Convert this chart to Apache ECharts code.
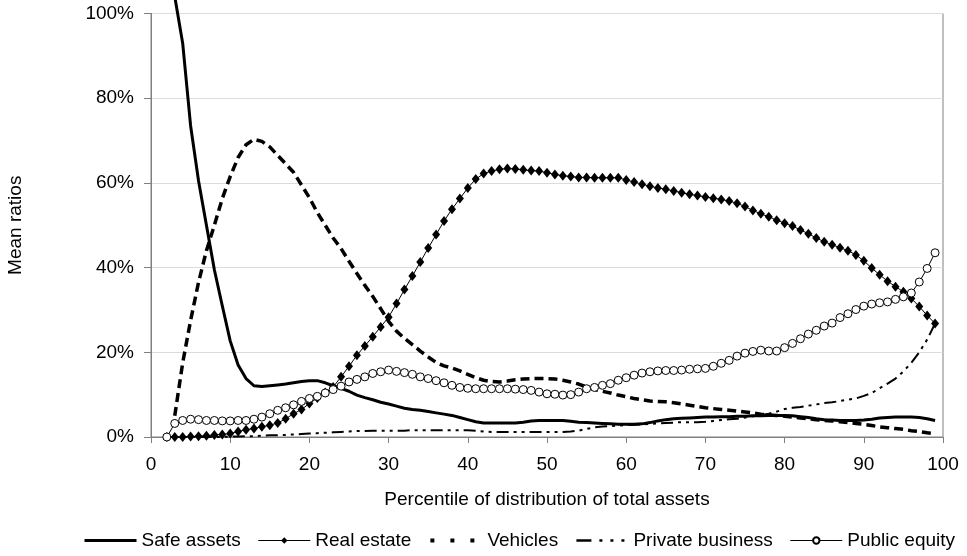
<!DOCTYPE html>
<html>
<head>
<meta charset="utf-8">
<title>Mean ratios by percentile of total assets</title>
<script src="https://cdn.jsdelivr.net/npm/echarts@6/dist/echarts.min.js"></script>
<style>
  html, body { margin: 0; padding: 0; background: #fff; }
  #chart { width: 967px; height: 556px; }
</style>
</head>
<body>
<div id="chart"></div>
<script>
// Percentile of the distribution of total assets (x positions of every observation)
const percentiles = [
   2,  3,  4,  5,  6,  7,  8,  9, 10, 11, 12, 13, 14, 15, 16, 17, 18, 19, 20, 21,
  22, 23, 24, 25, 26, 27, 28, 29, 30, 31, 32, 33, 34, 35, 36, 37, 38, 39, 40, 41,
  42, 43, 44, 45, 46, 47, 48, 49, 50, 51, 52, 53, 54, 55, 56, 57, 58, 59, 60, 61,
  62, 63, 64, 65, 66, 67, 68, 69, 70, 71, 72, 73, 74, 75, 76, 77, 78, 79, 80, 81,
  82, 83, 84, 85, 86, 87, 88, 89, 90, 91, 92, 93, 94, 95, 96, 97, 98, 99
];

// Mean ratios, in percent, one value per percentile above
const safeAssets = [
  null, 104, 93, 73.5, 60.5, 50, 39.5, 31, 22.7, 17, 13.8, 12.1, 11.9, 12.1, 12.3, 12.5, 12.8, 13.1, 13.3, 13.3,
  12.8, 12.1, 11.5, 10.8, 9.9, 9.3, 8.8, 8.2, 7.8, 7.3, 6.8, 6.5, 6.3, 6.0, 5.7, 5.4, 5.1, 4.6, 4.1, 3.6,
  3.3, 3.3, 3.3, 3.3, 3.3, 3.5, 3.8, 3.9, 3.9, 3.9, 3.9, 3.7, 3.5, 3.4, 3.3, 3.2, 3.1, 3.0, 3.0, 3.0,
  3.1, 3.4, 3.8, 4.1, 4.3, 4.4, 4.5, 4.6, 4.7, 4.7, 4.8, 4.8, 4.9, 4.9, 5.0, 5.0, 5.1, 5.1, 5.1, 5.0,
  4.8, 4.6, 4.3, 4.1, 4.0, 3.9, 3.9, 3.9, 4.0, 4.2, 4.5, 4.6, 4.7, 4.7, 4.7, 4.6, 4.3, 3.9
];
const realEstate = [
  0, 0, 0, 0.1, 0.2, 0.3, 0.5, 0.6, 0.8, 1.3, 1.7, 2.0, 2.4, 2.8, 3.3, 4.3, 5.5, 6.5, 7.9, 9.2,
  10.5, 11.8, 14.2, 16.7, 19.3, 21.5, 23.7, 26.0, 28.3, 31.5, 34.8, 38.0, 41.3, 44.6, 47.8, 51.0, 53.8, 56.3, 58.8, 60.9,
  62.2, 62.8, 63.2, 63.4, 63.3, 63.1, 62.9, 62.8, 62.4, 62.0, 61.7, 61.5, 61.3, 61.3, 61.2, 61.2, 61.2, 61.2, 60.7, 60.2,
  59.7, 59.2, 58.8, 58.5, 58.1, 57.7, 57.3, 57.0, 56.7, 56.4, 56.1, 55.7, 55.2, 54.4, 53.5, 52.7, 52.0, 51.2, 50.5, 49.8,
  48.9, 48.0, 47.0, 46.1, 45.4, 44.7, 44.0, 43.0, 41.6, 39.9, 38.3, 36.8, 35.5, 34.3, 32.7, 30.8, 28.7, 26.8
];
const vehicles = [
  null, 5, 17.5, 27.5, 36.5, 44, 50, 56.3, 61.5, 66, 69, 70.3, 69.8, 68.5, 66.5, 64.5, 62.5, 59.5, 56.5, 53,
  50, 47, 44.5, 41.5, 38.6, 35.8, 33.2, 30.3, 27.3, 25, 23.3, 21.8, 20.3, 18.9, 17.6, 16.8, 16.3, 15.6, 14.8, 14,
  13.4, 13.1, 13.0, 13.2, 13.5, 13.7, 13.8, 13.8, 13.8, 13.7, 13.4, 13.0, 12.5, 11.8, 11.2, 10.8, 10.4, 9.9, 9.5, 9.1,
  8.8, 8.5, 8.4, 8.3, 8.1, 7.8, 7.5, 7.2, 6.9, 6.7, 6.5, 6.3, 6.1, 5.9, 5.7, 5.4, 5.2, 5.1, 4.9, 4.7,
  4.5, 4.3, 4.1, 3.9, 3.8, 3.6, 3.4, 3.2, 3.0, 2.7, 2.4, 2.2, 2.0, 1.8, 1.5, 1.3, 1.0, 0.8
];
const privateBusiness = [
  0, 0, 0, 0, 0, 0, 0, 0, 0.1, 0.1, 0.2, 0.2, 0.3, 0.4, 0.4, 0.5, 0.6, 0.7, 0.8, 0.9,
  1.0, 1.1, 1.2, 1.3, 1.4, 1.4, 1.5, 1.5, 1.5, 1.5, 1.5, 1.6, 1.6, 1.6, 1.6, 1.6, 1.6, 1.6, 1.6, 1.5,
  1.3, 1.2, 1.2, 1.2, 1.2, 1.2, 1.2, 1.2, 1.2, 1.2, 1.2, 1.3, 1.5, 1.9, 2.3, 2.5, 2.6, 2.7, 2.8, 2.9,
  3.0, 3.1, 3.2, 3.3, 3.4, 3.5, 3.5, 3.5, 3.6, 3.8, 4.0, 4.2, 4.3, 4.6, 4.9, 5.2, 5.5, 6.0, 6.6, 6.9,
  7.1, 7.4, 7.7, 8.0, 8.2, 8.5, 8.8, 9.1, 9.7, 10.4, 11.5, 12.6, 13.8, 15.5, 17.5, 20.0, 23.0, 26.8
];
const publicEquity = [
  0, 3.2, 3.9, 4.2, 4.1, 3.9, 3.9, 3.8, 3.8, 3.9, 3.9, 4.2, 4.7, 5.5, 6.3, 6.9, 7.6, 8.4, 9.1, 9.6,
  10.4, 11.2, 12.0, 13.0, 13.6, 14.2, 15.0, 15.4, 15.8, 15.5, 15.2, 14.8, 14.2, 13.8, 13.3, 12.8, 12.2, 11.7, 11.5, 11.4,
  11.4, 11.4, 11.4, 11.4, 11.3, 11.2, 11.0, 10.6, 10.2, 10.1, 9.9, 10.0, 10.6, 11.4, 11.7, 12.2, 12.6, 13.4, 14.0, 14.6,
  15.1, 15.4, 15.6, 15.7, 15.7, 15.8, 16.0, 16.1, 16.2, 16.7, 17.4, 18.1, 19.1, 19.8, 20.2, 20.5, 20.3, 20.3, 21.1, 22.1,
  23.2, 24.3, 25.2, 26.2, 26.9, 28.2, 29.1, 30.1, 30.9, 31.4, 31.7, 31.9, 32.5, 33.1, 34.0, 36.6, 39.8, 43.5
];

const seriesNames = ['Safe assets', 'Real estate', 'Vehicles', 'Private business', 'Public equity'];
const xTickStep = 10;
const yTickStep = 20;

const FONT = '"Liberation Sans", Arial, sans-serif';
const FONT_SIZE = 19;
const AXIS_GRAY = '#808080';

function pairs(values) {
  return percentiles.map((p, i) => [p, values[i]]);
}

const chart = echarts.init(document.getElementById('chart'), null, { renderer: 'canvas' });

chart.setOption({
  backgroundColor: '#ffffff',
  animation: false,
  textStyle: { fontFamily: FONT, color: '#000' },
  grid: {
    left: 151, right: 24, top: 13.5, bottom: 119,
    show: true, borderColor: AXIS_GRAY, borderWidth: 1,
    containLabel: false, outerBoundsMode: 'none'
  },
  xAxis: {
    type: 'value',
    min: 0, max: 100, interval: xTickStep,
    name: 'Percentile of distribution of total assets',
    nameLocation: 'middle', nameGap: 53,
    nameTextStyle: { fontFamily: FONT, fontSize: FONT_SIZE, color: '#000' },
    axisLine: { show: true, lineStyle: { color: AXIS_GRAY, width: 1 } },
    axisTick: { show: true, inside: false, length: 6, lineStyle: { color: AXIS_GRAY } },
    axisLabel: { fontFamily: FONT, fontSize: FONT_SIZE, color: '#000', margin: 18 },
    splitLine: { show: false }
  },
  yAxis: {
    type: 'value',
    min: 0, max: 100, interval: yTickStep,
    name: 'Mean ratios',
    nameLocation: 'middle', nameGap: 126, nameRotate: 90,
    nameTextStyle: { fontFamily: FONT, fontSize: FONT_SIZE, color: '#000' },
    axisLine: { show: true, lineStyle: { color: AXIS_GRAY, width: 1 } },
    axisTick: { show: true, inside: false, length: 7, lineStyle: { color: AXIS_GRAY } },
    axisLabel: { fontFamily: FONT, fontSize: FONT_SIZE, color: '#000', margin: 17, formatter: '{value}%' },
    splitLine: { show: true, lineStyle: { color: '#dcdcdc', width: 1 } }
  },
  legend: {
    left: 83, top: 531, padding: 0,
    itemWidth: 52, itemHeight: 8, itemGap: 17,
    textStyle: { fontFamily: FONT, fontSize: FONT_SIZE, color: '#000' },
    data: [
      { name: seriesNames[0], itemStyle: { opacity: 0 }, lineStyle: { width: 3 } },
      { name: seriesNames[1], lineStyle: { width: 1 } },
      { name: seriesNames[2], itemStyle: { opacity: 0 }, lineStyle: { width: 4, type: [4, 16] } },
      { name: seriesNames[3], itemStyle: { opacity: 0 }, lineStyle: { width: 2.5, type: [15, 8, 3, 8, 3, 8, 3, 20] } },
      { name: seriesNames[4], lineStyle: { width: 1 } }
    ]
  },
  series: [
    {
      name: seriesNames[0], type: 'line', data: pairs(safeAssets),
      symbol: 'none', clip: false, z: 3,
      lineStyle: { color: '#000', width: 3 },
      itemStyle: { color: '#000' }
    },
    {
      name: seriesNames[1], type: 'line', data: pairs(realEstate),
      symbol: 'diamond', symbolSize: [8, 10], z: 4,
      lineStyle: { color: '#000', width: 1 },
      itemStyle: { color: '#000', borderWidth: 0 }
    },
    {
      name: seriesNames[2], type: 'line', data: pairs(vehicles),
      symbol: 'none', z: 3,
      lineStyle: { color: '#000', width: 3.5, type: [9, 5] },
      itemStyle: { color: '#000' }
    },
    {
      name: seriesNames[3], type: 'line', data: pairs(privateBusiness),
      symbol: 'none', z: 3,
      lineStyle: { color: '#000', width: 2, type: [12, 5, 3, 5, 3, 5] },
      itemStyle: { color: '#000' }
    },
    {
      name: seriesNames[4], type: 'line', data: pairs(publicEquity),
      symbol: 'circle', symbolSize: 8, z: 5,
      lineStyle: { color: '#000', width: 1 },
      itemStyle: { color: '#fff', borderColor: '#000', borderWidth: 1 }
    }
  ]
});
</script>
</body>
</html>
